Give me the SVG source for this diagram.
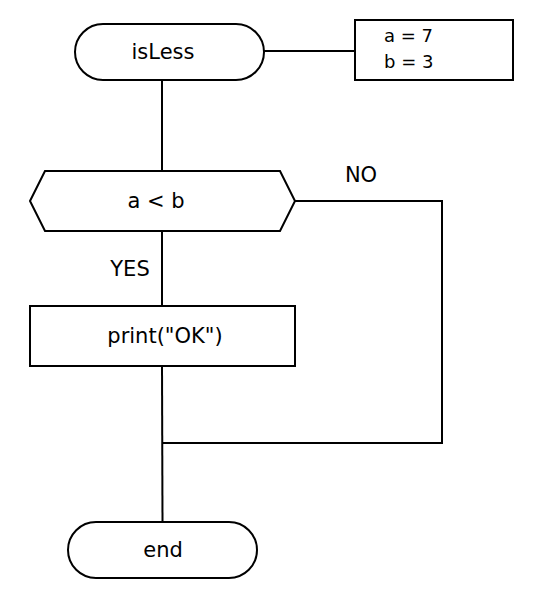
<svg xmlns="http://www.w3.org/2000/svg" width="544" height="604" viewBox="0 0 544 604">
<style>
.s{fill:#fff;stroke:#000;stroke-width:2}
.c{fill:none;stroke:#000;stroke-width:2}
text{font-family:"DejaVu Sans",Verdana,sans-serif;font-size:21px;fill:#000}
.m{text-anchor:middle;dominant-baseline:central}
.d{font-size:18px}
</style>
<rect width="544" height="604" fill="#fff"/>
<g id="connectors">
<path class="c" d="M264 51H355"/>
<path class="c" d="M162 80V171"/>
<path class="c" d="M162 231V306"/>
<path class="c" d="M295 201H442V443H162"/>
<path class="c" d="M162 366L162.5 522"/>
<text class="m" x="361" y="175">NO</text>
<text class="m" x="130" y="269">YES</text>
</g>
<g id="start">
<rect class="s" x="75" y="24" width="189" height="56" rx="28"/>
<text class="m" x="163" y="52">isLess</text>
</g>
<g id="data">
<rect class="s" x="355" y="20" width="158" height="60"/>
<text class="d" x="384" y="42">a = 7</text>
<text class="d" x="384" y="68">b = 3</text>
</g>
<g id="cond">
<polygon class="s" points="30,201 45,171 280,171 295,201 280,231 45,231"/>
<text class="m" x="156" y="201">a &lt; b</text>
</g>
<g id="print">
<rect class="s" x="30" y="306" width="265" height="60"/>
<text class="m" x="165" y="336">print("OK")</text>
</g>
<g id="end">
<rect class="s" x="68" y="522" width="189" height="56" rx="28"/>
<text class="m" x="163" y="550">end</text>
</g>
</svg>
